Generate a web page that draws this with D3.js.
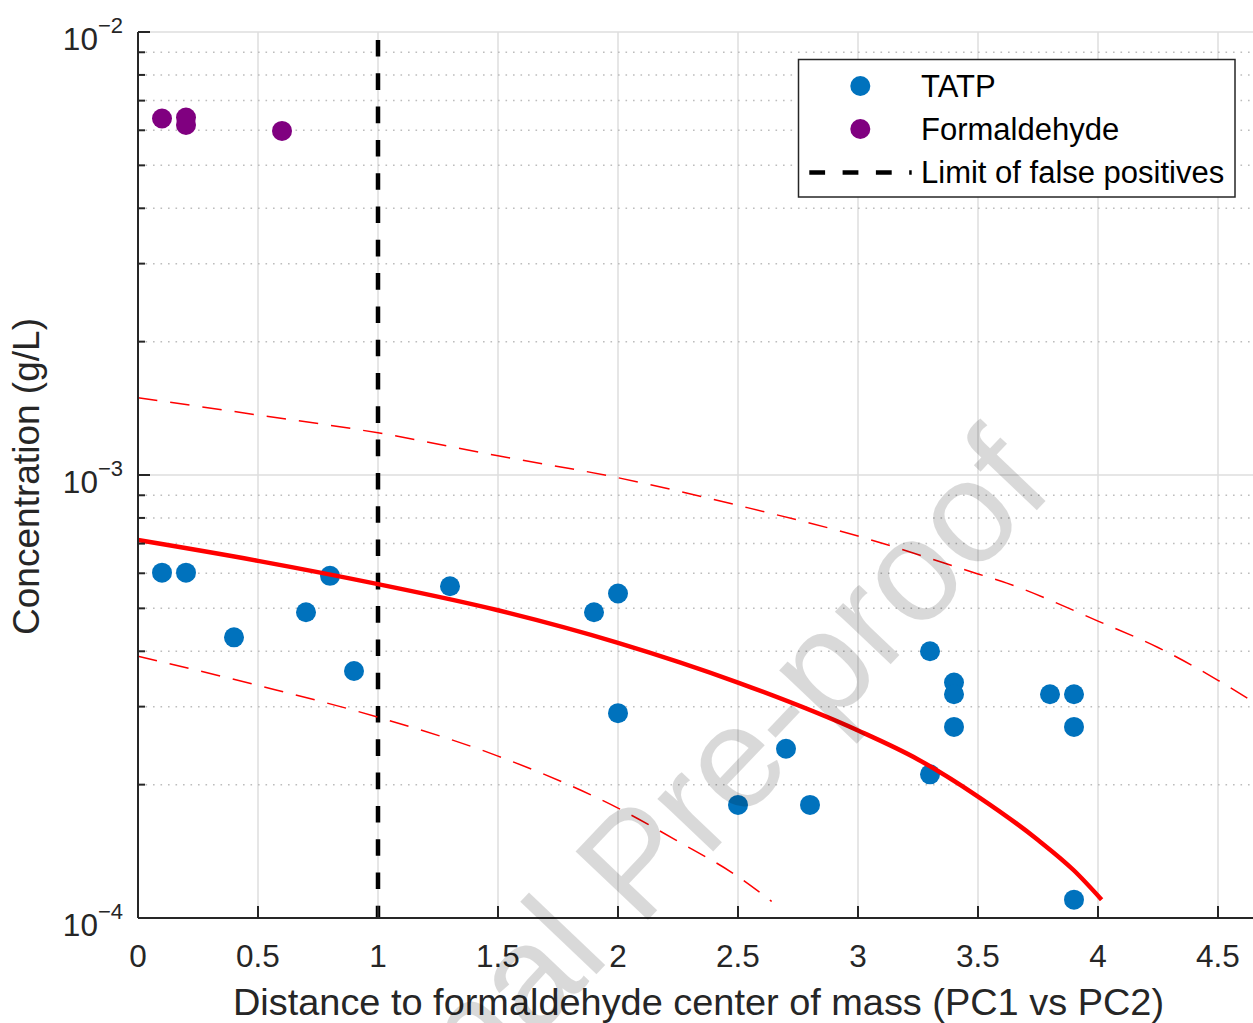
<!DOCTYPE html>
<html>
<head>
<meta charset="utf-8">
<script src="https://cdn.jsdelivr.net/npm/d3@7"></script>
<style>
  html, body { margin: 0; padding: 0; background: #fff; overflow: hidden; }
  svg { display: block; font-family: "Liberation Sans", Arial, Helvetica, sans-serif; }
</style>
</head>
<body>
<svg id="chart" width="1253" height="1023"></svg>
<script>
// ---------- data ----------
const tatpX = [0.1, 0.2, 0.4, 0.7, 0.8, 0.9, 1.3, 1.9, 2.0, 2.0, 2.5, 2.7, 2.8, 3.3, 3.3, 3.4, 3.4, 3.4, 3.8, 3.9, 3.9, 3.9];
const tatpY = [6.02e-4, 6.02e-4, 4.30e-4, 4.90e-4, 5.92e-4, 3.61e-4, 5.61e-4, 4.90e-4, 5.40e-4, 2.90e-4, 1.80e-4, 2.41e-4, 1.80e-4, 4.00e-4, 2.11e-4, 3.40e-4, 3.20e-4, 2.70e-4, 3.20e-4, 3.20e-4, 2.70e-4, 1.10e-4];
const formX = [0.1, 0.2, 0.2, 0.6];
const formY = [6.38e-3, 6.41e-3, 6.17e-3, 5.98e-3];

const fitX = [0, 0.5, 1, 1.5, 2, 2.5, 3, 3.25, 3.5, 3.75, 3.9, 4.015];
const fitY = [7.13e-4, 6.40e-4, 5.67e-4, 4.95e-4, 4.18e-4, 3.40e-4, 2.65e-4, 2.28e-4, 1.88e-4, 1.50e-4, 1.28e-4, 1.10e-4];
const upperX = [0, 0.5, 1, 1.5, 2, 2.5, 3, 3.5, 3.62, 4, 4.25, 4.5, 4.7];
const upperY = [1.494e-3, 1.366e-3, 1.245e-3, 1.105e-3, 9.86e-4, 8.54e-4, 7.28e-4, 5.98e-4, 5.70e-4, 4.68e-4, 4.08e-4, 3.44e-4, 2.95e-4];
const lowerX = [0, 0.5, 1, 1.5, 2, 2.25, 2.5, 2.64];
const lowerY = [3.90e-4, 3.35e-4, 2.84e-4, 2.32e-4, 1.77e-4, 1.49e-4, 1.24e-4, 1.09e-4];

const limitX = 1;
const xTicks = [0, 0.5, 1, 1.5, 2, 2.5, 3, 3.5, 4, 4.5];
const xTickLabels = ["0", "0.5", "1", "1.5", "2", "2.5", "3", "3.5", "4", "4.5"];
const yMajor = [1e-4, 1e-3, 1e-2];
const yMajorExp = ["\u22124", "\u22123", "\u22122"];
const yMinorMult = [2, 3, 4, 5, 6, 7, 8, 9];

const legendLabels = ["TATP", "Formaldehyde", "Limit of false positives"];
const xLabel = "Distance to formaldehyde center of mass (PC1 vs PC2)";
const yLabel = "Concentration (g/L)";
const watermark = "Journal Pre-proof";

// ---------- setup ----------
const svg = d3.select("#chart");
const x = d3.scaleLinear().domain([0, 4.7]).range([138, 1266]);
const y = d3.scaleLog().domain([1e-4, 1e-2]).range([918, 32]);
const axisCol = "#262626";
const blue = "#0072BD", purple = "#800080";

const minorVals = [];
[1e-4, 1e-3].forEach(d => yMinorMult.forEach(m => minorVals.push(d * m)));

// grid
const grid = svg.append("g");
grid.selectAll("line.vx").data(xTicks).join("line")
  .attr("x1", d => x(d)).attr("x2", d => x(d)).attr("y1", y(1e-2)).attr("y2", y(1e-4))
  .attr("stroke", "#dedede").attr("stroke-width", 1.5);
grid.selectAll("line.hm").data(minorVals).join("line")
  .attr("x1", x(0)).attr("x2", x(4.7)).attr("y1", d => y(d)).attr("y2", d => y(d))
  .attr("stroke", "#bdbdbd").attr("stroke-width", 1.5).attr("stroke-dasharray", "1.6 5.9");
grid.selectAll("line.hM").data(yMajor.slice(1)).join("line")
  .attr("x1", x(0)).attr("x2", x(4.7)).attr("y1", d => y(d)).attr("y2", d => y(d))
  .attr("stroke", "#dedede").attr("stroke-width", 1.5);

// vertical limit line
svg.append("line")
  .attr("x1", x(limitX)).attr("x2", x(limitX)).attr("y1", y(1e-2)).attr("y2", y(1e-4))
  .attr("stroke", "#000").attr("stroke-width", 4.5)
  .attr("stroke-dasharray", "16.6 16.7").attr("stroke-dashoffset", 25.3);

// scatter
svg.append("g").selectAll("circle").data(tatpX.map((d, i) => [d, tatpY[i]])).join("circle")
  .attr("cx", d => x(d[0])).attr("cy", d => y(d[1])).attr("r", 10).attr("fill", blue);
svg.append("g").selectAll("circle").data(formX.map((d, i) => [d, formY[i]])).join("circle")
  .attr("cx", d => x(d[0])).attr("cy", d => y(d[1])).attr("r", 10).attr("fill", purple);

// curves
const line = d3.line().x(d => x(d[0])).y(d => y(d[1])).curve(d3.curveMonotoneX);
const zip = (a, b) => a.map((d, i) => [d, b[i]]);
svg.append("path").attr("d", line(zip(upperX, upperY))).attr("fill", "none")
  .attr("stroke", "#ff0000").attr("stroke-width", 1.5).attr("stroke-dasharray", "19.5 13");
svg.append("path").attr("d", line(zip(lowerX, lowerY))).attr("fill", "none")
  .attr("stroke", "#ff0000").attr("stroke-width", 1.5).attr("stroke-dasharray", "19.5 13");
svg.append("path").attr("d", line(zip(fitX, fitY))).attr("fill", "none")
  .attr("stroke", "#ff0000").attr("stroke-width", 4.5);

// axes
const ax = svg.append("g").attr("stroke", axisCol).attr("stroke-width", 2);
ax.append("line").attr("x1", x(0)).attr("x2", x(4.7)).attr("y1", y(1e-4)).attr("y2", y(1e-4));
ax.append("line").attr("x1", x(0)).attr("x2", x(0)).attr("y1", y(1e-2)).attr("y2", y(1e-4));
ax.selectAll("line.xt").data(xTicks).join("line")
  .attr("x1", d => x(d)).attr("x2", d => x(d)).attr("y1", y(1e-4)).attr("y2", y(1e-4) - 12);
ax.selectAll("line.yt").data(yMajor).join("line")
  .attr("x1", x(0)).attr("x2", x(0) + 12).attr("y1", d => y(d)).attr("y2", d => y(d));
ax.selectAll("line.ym").data(minorVals).join("line")
  .attr("x1", x(0)).attr("x2", x(0) + 7).attr("y1", d => y(d)).attr("y2", d => y(d));

// tick labels
svg.append("g").selectAll("text").data(xTicks).join("text")
  .attr("x", d => x(d)).attr("y", 966.5).attr("text-anchor", "middle")
  .attr("font-size", 31.5).attr("fill", axisCol).text((d, i) => xTickLabels[i]);
const yl = svg.append("g").selectAll("text").data(yMajor).join("text")
  .attr("x", 123).attr("y", d => y(d) + 18).attr("text-anchor", "end")
  .attr("font-size", 31.5).attr("fill", axisCol);
yl.append("tspan").text("10");
yl.append("tspan").attr("dy", -17).attr("font-size", 22).text((d, i) => yMajorExp[i]);

// axis labels
svg.append("text").attr("x", 698.5).attr("y", 1015).attr("text-anchor", "middle")
  .attr("font-size", 36).attr("fill", axisCol)
  .attr("textLength", 931).attr("lengthAdjust", "spacingAndGlyphs").text(xLabel);
svg.append("text").attr("transform", "translate(39,476.5) rotate(-90)").attr("text-anchor", "middle")
  .attr("font-size", 36).attr("fill", axisCol)
  .attr("textLength", 317).attr("lengthAdjust", "spacingAndGlyphs").text(yLabel);

// legend
const lg = svg.append("g");
lg.append("rect").attr("x", 798.5).attr("y", 59.5).attr("width", 436.5).attr("height", 137.5)
  .attr("fill", "#fff").attr("stroke", axisCol).attr("stroke-width", 1.5);
lg.append("circle").attr("cx", 860.3).attr("cy", 86).attr("r", 10).attr("fill", blue);
lg.append("circle").attr("cx", 860.3).attr("cy", 129).attr("r", 10).attr("fill", purple);
lg.append("line").attr("x1", 809.3).attr("x2", 911.7).attr("y1", 172.5).attr("y2", 172.5)
  .attr("stroke", "#000").attr("stroke-width", 4.5).attr("stroke-dasharray", "15.8 17.5");
[96.7, 140, 183].forEach((yy, i) => {
  lg.append("text").attr("x", 921).attr("y", yy).attr("font-size", 31).attr("fill", "#000")
    .text(legendLabels[i]);
});

// watermark
const ang = -46.5;
const wfs = 145;
const wm = svg.append("text").attr("font-size", wfs).attr("fill", "#000").attr("fill-opacity", 0.15)
  .text(watermark);
const tmp = svg.append("text").attr("font-size", wfs).text("Journal ");
const wJ = tmp.node().getComputedTextLength();
tmp.remove();
const rad = ang * Math.PI / 180;
const Px = 612, Py = 958;
const sx = Px - wJ * Math.cos(rad), sy = Py - wJ * Math.sin(rad);
wm.attr("transform", `translate(${sx},${sy}) rotate(${ang})`);
</script>
</body>
</html>
